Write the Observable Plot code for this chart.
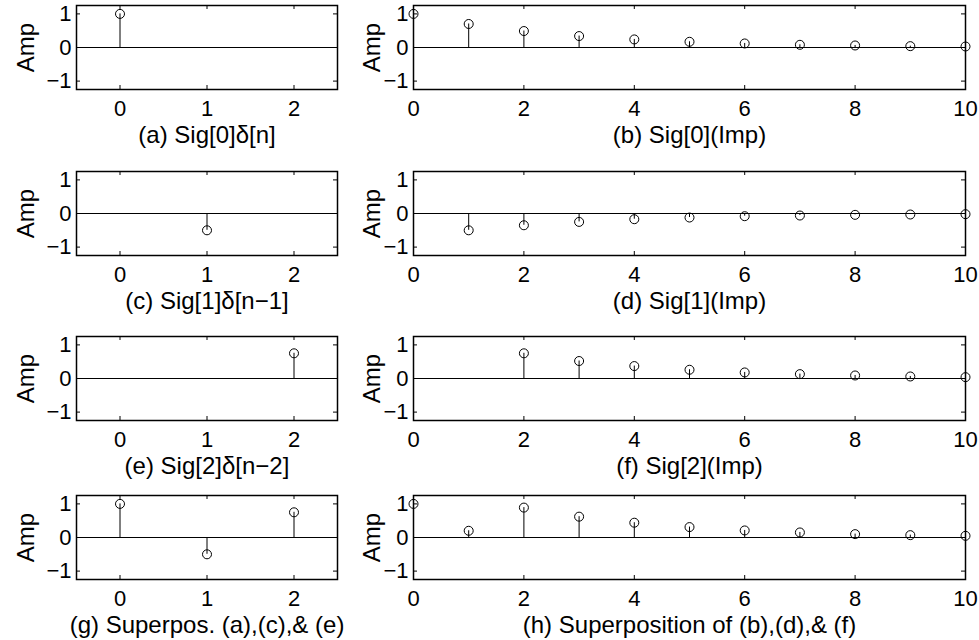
<!DOCTYPE html>
<html>
<head>
<meta charset="utf-8">
<script src="https://cdn.jsdelivr.net/npm/d3@7"></script>
<script src="https://cdn.jsdelivr.net/npm/@observablehq/plot@0.6"></script>
<style>
  body { margin: 0; background: #fff; }
  #fig { position: relative; width: 979px; height: 640px; background: #fff; }
  #fig svg { position: absolute; overflow: visible; }
</style>
</head>
<body>
<div id="fig"></div>
<script>
// Input samples Sig[n] and their weighted, shifted impulse responses
const sigIndex = [0, 1, 2];
const sigValues = [1, -0.5, 0.75];

const resp0Index = [0, 1, 2, 3, 4, 5, 6, 7, 8, 9, 10];
const resp0Values = [1, 0.7, 0.49, 0.34, 0.24, 0.17, 0.12, 0.08, 0.06, 0.04, 0.03];

const resp1Index = [1, 2, 3, 4, 5, 6, 7, 8, 9, 10];
const resp1Values = [-0.5, -0.35, -0.25, -0.17, -0.12, -0.08, -0.06, -0.04, -0.03, -0.02];

const resp2Index = [2, 3, 4, 5, 6, 7, 8, 9, 10];
const resp2Values = [0.75, 0.52, 0.37, 0.26, 0.18, 0.13, 0.09, 0.06, 0.04];

const superIndex = [0, 1, 2, 3, 4, 5, 6, 7, 8, 9, 10];
const superValues = [1, 0.2, 0.89, 0.62, 0.44, 0.31, 0.21, 0.15, 0.1, 0.07, 0.05];

const yTicks = [-1, 0, 1];
const shortTicks = [0, 1, 2];
const longTicks = [0, 2, 4, 6, 8, 10];

const titles = [
  "(a) Sig[0]δ[n]", "(b) Sig[0](Imp)",
  "(c) Sig[1]δ[n−1]", "(d) Sig[1](Imp)",
  "(e) Sig[2]δ[n−2]", "(f) Sig[2](Imp)",
  "(g) Superpos. (a),(c),& (e)", "(h) Superposition of (b),(d),& (f)"
];
const yLabel = "Amp";

const zip = (idx, vals) => idx.map((n, i) => ({n, v: vals[i]}));

const panels = [
  {row: 0, wide: false, data: zip([sigIndex[0]], [sigValues[0]])},
  {row: 0, wide: true,  data: zip(resp0Index, resp0Values)},
  {row: 1, wide: false, data: zip([sigIndex[1]], [sigValues[1]])},
  {row: 1, wide: true,  data: zip(resp1Index, resp1Values)},
  {row: 2, wide: false, data: zip([sigIndex[2]], [sigValues[2]])},
  {row: 2, wide: true,  data: zip(resp2Index, resp2Values)},
  {row: 3, wide: false, data: zip(sigIndex, sigValues)},
  {row: 3, wide: true,  data: zip(superIndex, superValues)}
];

// Layout of the axes boxes
const rowTops = [5, 171, 336, 495];
const frameH = 84;
const cols = {
  narrow: {x0: 76, w: 261, ampDx: -50},
  wide: {x0: 413, w: 552, ampDx: -41}
};
const mL = 76, mR = 8, mT = 6, mB = 66;
const tick = 4;
const font = "'Liberation Sans',Arial,Helvetica,sans-serif";
const tickFs = 22;
const labelFs = 24;

const fig = document.getElementById("fig");

panels.forEach((p, i) => {
  const col = p.wide ? cols.wide : cols.narrow;
  const xt = p.wide ? longTicks : shortTicks;
  const chart = Plot.plot({
    width: mL + col.w + mR,
    height: mT + frameH + mB,
    marginLeft: mL, marginRight: mR, marginTop: mT, marginBottom: mB,
    style: `background:none;overflow:visible;color:black;font-family:${font};font-size:${tickFs}px;`,
    x: {domain: p.wide ? [0, 10] : [-0.5, 2.5]},
    y: {domain: [-1.25, 1.25]},
    marks: [
      Plot.ruleY([0], {stroke: "black", strokeWidth: 1}),
      Plot.ruleX(p.data, {x: "n", y1: 0, y2: "v", stroke: "black", strokeWidth: 1}),
      Plot.dot(p.data, {x: "n", y: "v", r: 4.5, stroke: "black", fill: "none", strokeWidth: 1}),
      // inward ticks on all four sides
      Plot.tickX(xt, {x: d => d, insetTop: frameH - tick, stroke: "black"}),
      Plot.tickX(xt, {x: d => d, insetBottom: frameH - tick, stroke: "black"}),
      Plot.tickY(yTicks, {y: d => d, insetRight: col.w - tick, stroke: "black"}),
      Plot.tickY(yTicks, {y: d => d, insetLeft: col.w - tick, stroke: "black"}),
      Plot.frame({stroke: "black", strokeWidth: 1.5}),
      Plot.axisX(xt, {tickSize: 0, tickPadding: 11, label: null, fontSize: tickFs, fill: "black"}),
      Plot.axisY(yTicks, {tickSize: 0, tickPadding: 5, label: null, fontSize: tickFs, fill: "black"}),
      // panel caption under the axis and the vertical "Amp" label
      Plot.text([titles[i]], {frameAnchor: "bottom", dy: 46, fontSize: labelFs, fill: "black", lineAnchor: "middle", textAnchor: "middle"}),
      Plot.text([yLabel], {frameAnchor: "left", dx: col.ampDx, rotate: -90, fontSize: labelFs, fill: "black", lineAnchor: "middle", textAnchor: "middle"})
    ]
  });
  chart.style.left = (col.x0 - mL) + "px";
  chart.style.top = (rowTops[p.row] - mT) + "px";
  fig.appendChild(chart);
});
</script>
</body>
</html>
